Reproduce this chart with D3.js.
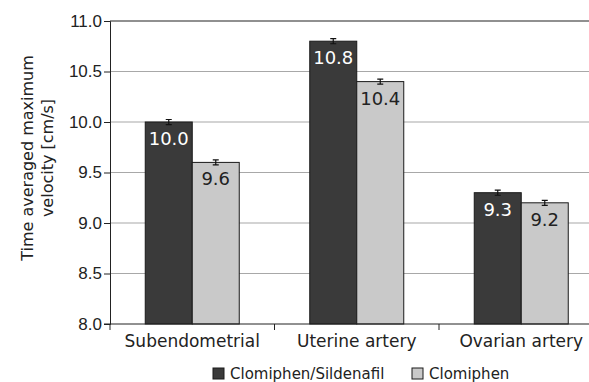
<!DOCTYPE html>
<html lang="en">
<head>
<meta charset="UTF-8">
<title>Time averaged maximum velocity</title>
<style>
body { margin: 0; background: #fff; }
svg { display: block; font-family: "DejaVu Sans", "Noto Sans", sans-serif; }
.tick text { font-size: 17px; fill: #222; }
</style>
</head>
<body>
<svg width="589" height="382"></svg>
<script src="https://d3js.org/d3.v7.min.js"></script>
<script>
var categories = ["Subendometrial", "Uterine artery", "Ovarian artery"];
var seriesNames = ["Clomiphen/Sildenafil", "Clomiphen"];
var sildenafil = [10.0, 10.8, 9.3];
var clomiphen = [9.6, 10.4, 9.2];
var sildenafilErr = [0.025, 0.025, 0.025];
var clomiphenErr = [0.025, 0.025, 0.025];
var yTicks = [8.0, 8.5, 9.0, 9.5, 10.0, 10.5, 11.0];

var colors = ["#3a3a3a", "#c9c9c9"];
var labelColors = ["#fff", "#222"];

var svg = d3.select("svg"),
    width = +svg.attr("width");

var x0 = d3.scaleBand().domain(categories).range([110, 603.5]).paddingInner(0).paddingOuter(0);
var x1 = d3.scaleBand().domain(seriesNames).range([0, x0.bandwidth()]).paddingInner(0).paddingOuter(0.75);
var y = d3.scaleLinear().domain([8, 11]).range([324, 21]);

// gridlines
svg.append("g").selectAll("line")
    .data(yTicks.filter(function(d) { return d > 8 && d < 11; }))
    .enter().append("line")
    .attr("x1", 110).attr("x2", width)
    .attr("y1", function(d) { return y(d); })
    .attr("y2", function(d) { return y(d); })
    .attr("stroke", "#a8a8a8").attr("stroke-width", 1.2);

// top frame line
svg.append("line")
    .attr("x1", 110).attr("x2", width)
    .attr("y1", y(11)).attr("y2", y(11))
    .attr("stroke", "#222").attr("stroke-width", 1.2);

var rows = categories.map(function(c, i) {
    return { cat: c, vals: [
        { s: seriesNames[0], v: sildenafil[i], e: sildenafilErr[i], k: 0 },
        { s: seriesNames[1], v: clomiphen[i], e: clomiphenErr[i], k: 1 }
    ] };
});

var groups = svg.append("g").selectAll("g")
    .data(rows).enter().append("g")
    .attr("transform", function(d) { return "translate(" + x0(d.cat) + ",0)"; });

var bars = groups.selectAll("g").data(function(d) { return d.vals; }).enter().append("g");

bars.append("rect")
    .attr("x", function(d) { return x1(d.s); })
    .attr("y", function(d) { return y(d.v); })
    .attr("width", x1.bandwidth())
    .attr("height", function(d) { return y(8) - y(d.v); })
    .attr("fill", function(d) { return colors[d.k]; })
    .attr("stroke", "#1a1a1a").attr("stroke-width", 1);

// error bars
bars.append("path")
    .attr("d", function(d) {
        var cx = x1(d.s) + x1.bandwidth() / 2, t = y(d.v + d.e), b = y(d.v - d.e);
        return "M" + (cx - 3) + "," + t + "H" + (cx + 3) + "M" + cx + "," + t + "V" + b +
            "M" + (cx - 3) + "," + b + "H" + (cx + 3);
    })
    .attr("stroke", "#111").attr("stroke-width", 1.2).attr("fill", "none");

bars.append("text")
    .attr("x", function(d) { return x1(d.s) + x1.bandwidth() / 2; })
    .attr("y", function(d) { return y(d.v) + 23; })
    .attr("text-anchor", "middle")
    .style("font-size", "18px")
    .attr("fill", function(d) { return labelColors[d.k]; })
    .text(function(d) { return d.v.toFixed(1); });

// y axis
var yAxis = svg.append("g")
    .attr("transform", "translate(110,0)")
    .call(d3.axisLeft(y).tickValues(yTicks).tickFormat(d3.format(".1f")).tickSizeOuter(0).tickSize(6).tickPadding(2));
yAxis.selectAll("line, path").attr("stroke", "#222");

// x axis
var xAxis = svg.append("g").attr("transform", "translate(0,324)");
xAxis.append("line").attr("x1", 104).attr("x2", width).attr("y1", 0).attr("y2", 0).attr("stroke", "#222");
xAxis.selectAll(".tk").data(categories).enter().append("line")
    .attr("x1", function(d) { return x0(d); }).attr("x2", function(d) { return x0(d); })
    .attr("y1", 0).attr("y2", 6).attr("stroke", "#222");
xAxis.selectAll("text").data(categories).enter().append("text")
    .attr("x", function(d) { return x0(d) + x0.bandwidth() / 2; })
    .attr("y", 23)
    .attr("text-anchor", "middle")
    .style("font-size", "17px")
    .attr("fill", "#222")
    .text(function(d) { return d; });

// y title
var yt = svg.append("text")
    .attr("transform", "translate(33,158) rotate(-90)")
    .attr("text-anchor", "middle")
    .style("font-size", "16px")
    .attr("fill", "#222");
yt.append("tspan").attr("x", 0).attr("dy", 0).text("Time averaged maximum");
yt.append("tspan").attr("x", 0).attr("dy", 20).text("velocity [cm/s]");

// legend
var legendX = [213, 412];
var legend = svg.append("g").selectAll("g").data(seriesNames).enter().append("g")
    .attr("transform", function(d, i) { return "translate(" + legendX[i] + ",366)"; });
legend.append("rect")
    .attr("x", 0).attr("y", 2).attr("width", 11).attr("height", 11)
    .attr("fill", function(d, i) { return colors[i]; })
    .attr("stroke", "#1a1a1a");
legend.append("text")
    .attr("x", 17).attr("y", 13)
    .style("font-size", "15px")
    .attr("fill", "#222")
    .text(function(d) { return d; });
</script>
</body>
</html>
